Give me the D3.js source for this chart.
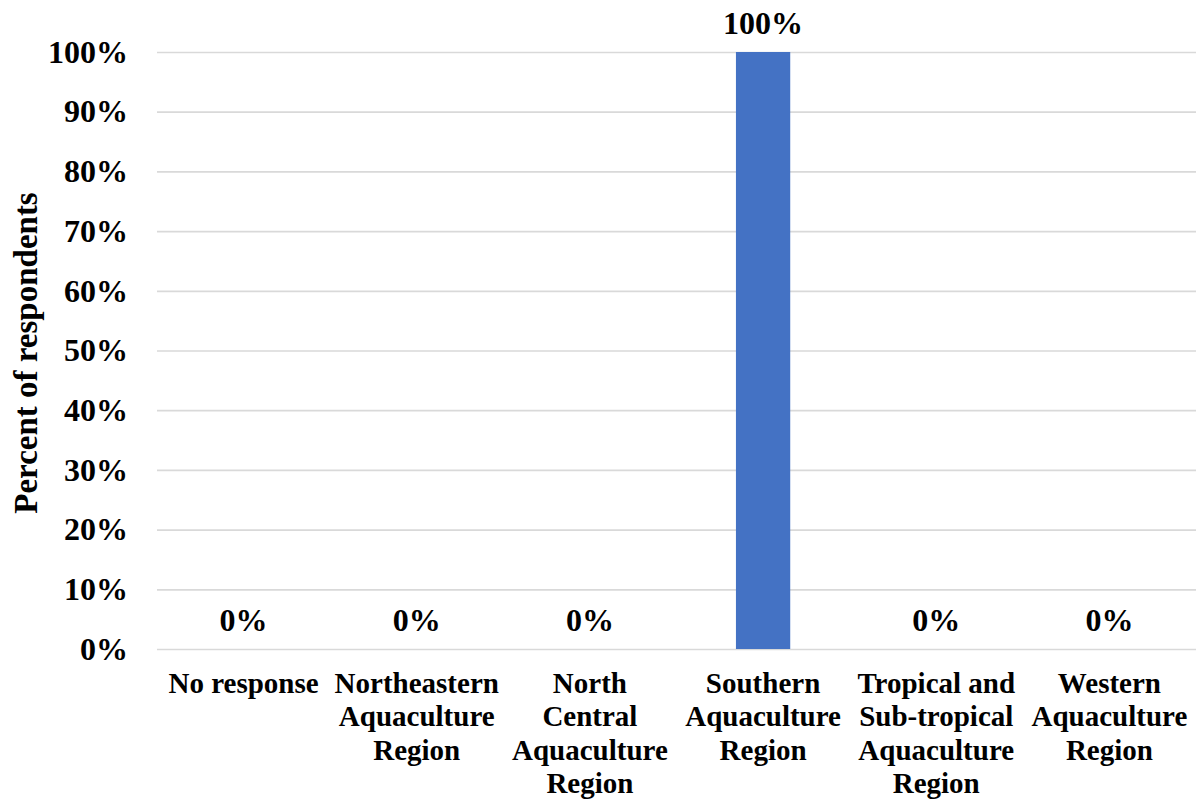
<!DOCTYPE html>
<html>
<head>
<meta charset="utf-8">
<script src="https://cdn.jsdelivr.net/npm/d3@7"></script>
<style>
  html, body { margin: 0; padding: 0; background: #ffffff; }
  svg text { font-family: "Liberation Serif", "Times New Roman", serif; font-weight: bold; fill: #000; }
</style>
</head>
<body>
<svg id="chart" width="1200" height="802"></svg>
<script>
const categories = [
  "No response",
  "Northeastern Aquaculture Region",
  "North Central Aquaculture Region",
  "Southern Aquaculture Region",
  "Tropical and Sub-tropical Aquaculture Region",
  "Western Aquaculture Region"
];
const categoryLines = [
  ["No response"],
  ["Northeastern", "Aquaculture", "Region"],
  ["North", "Central", "Aquaculture", "Region"],
  ["Southern", "Aquaculture", "Region"],
  ["Tropical and", "Sub-tropical", "Aquaculture", "Region"],
  ["Western", "Aquaculture", "Region"]
];
const values = [0, 0, 0, 100, 0, 0];
const yTicks = [0, 10, 20, 30, 40, 50, 60, 70, 80, 90, 100];
const yTitle = "Percent of respondents";

(function () {
const svg = d3.select("#chart");
const mLeft = 157, mRight = 1196, mTop = 52, mBottom = 649;
const fsTick = 32, fsLabel = 32, fsCat = 29, fsTitle = 33;

const x = d3.scaleBand().domain(categories).range([mLeft, mRight]).paddingInner(0).paddingOuter(0);
const y = d3.scaleLinear().domain([0, 100]).range([mBottom, mTop]);
const barW = x.bandwidth() / 3.19;

// y axis with gridlines
const yAxis = d3.axisLeft(y)
  .tickValues(yTicks)
  .tickFormat(d => d + "%")
  .tickSizeInner(-(mRight - mLeft))
  .tickSizeOuter(0)
  .tickPadding(29);
const gy = svg.append("g").attr("transform", `translate(${mLeft},0)`).call(yAxis);
gy.select(".domain").remove();
gy.selectAll(".tick line").attr("stroke", "#d9d9d9").attr("stroke-width", 1.7);
gy.selectAll(".tick text")
  .style("font-size", fsTick + "px")
  .style("font-family", '"Liberation Serif", "Times New Roman", serif')
  .style("font-weight", "bold")
  .attr("fill", "#000");

// bars
svg.append("g").selectAll("rect")
  .data(categories)
  .join("rect")
  .attr("x", (c) => x(c) + (x.bandwidth() - barW) / 2)
  .attr("width", barW)
  .attr("y", (c, i) => y(values[i]))
  .attr("height", (c, i) => y(0) - y(values[i]))
  .attr("fill", "#4472C4");

// data labels
svg.append("g").selectAll("text")
  .data(categories)
  .join("text")
  .attr("x", c => x(c) + x.bandwidth() / 2)
  .attr("y", (c, i) => y(values[i]) - 18.5)
  .attr("text-anchor", "middle")
  .style("font-size", fsLabel + "px")
  .text((c, i) => values[i] + "%");

// category labels
const baseY = 693, lineH = 33.3;
const gx = svg.append("g");
categories.forEach((c, i) => {
  const cx = x(c) + x.bandwidth() / 2;
  const t = gx.append("text")
    .attr("x", cx)
    .attr("y", baseY)
    .attr("text-anchor", "middle")
    .style("font-size", fsCat + "px");
  categoryLines[i].forEach((ln, j) => {
    t.append("tspan")
      .attr("x", cx)
      .attr("y", baseY + j * lineH)
      .text(ln);
  });
});

// y title
svg.append("text")
  .attr("transform", `translate(37,353) rotate(-90)`)
  .attr("text-anchor", "middle")
  .style("font-size", fsTitle + "px")
  .text(yTitle);
})();
</script>
</body>
</html>
